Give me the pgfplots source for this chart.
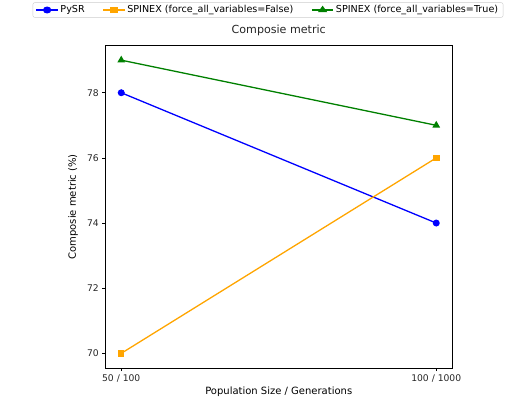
\documentclass[border=0pt]{standalone}
\usepackage{fontspec}
\setmainfont{DejaVu Sans}
\newfontfamily\dv{DejaVu Sans}
\usepackage{pgfplots}
\pgfplotsset{compat=1.18}
\definecolor{mplorange}{RGB}{255,165,0}
\definecolor{mplgreen}{RGB}{0,128,0}
\begin{document}
\begin{tikzpicture}
\path[use as bounding box] (-105.5pt,-37pt) rectangle (403.5pt,368pt);
\begin{axis}[
  at={(0pt,0pt)}, anchor=south west,
  scale only axis, width=346.5pt, height=322.5pt,
  xmin=-0.05, xmax=1.05, ymin=69.55, ymax=79.45,
  xtick={0,1}, xticklabels={\mbox{\dv 50 / 100}, \mbox{\dv 100 / 1000}},
  ytick={70,72,74,76,78},
  tick align=outside, tick pos=left,
  major tick length=3.2pt,
  tick style={black, line width=0.7pt},
  axis line style={black, line width=0.7pt},
  /pgf/number format/assume math mode=true,
  tick label style={font=\fontsize{9.2}{11}\selectfont, text=black!85},
  label style={font=\fontsize{9.2}{11}\selectfont, text=black!85},
  title style={font=\fontsize{11.1}{13}\selectfont, text=black!85},
  title={Composie metric},
  xlabel={Population Size / Generations},
  ylabel={Composie metric (\%)},
  every axis y label/.style={at={(-32.5pt,161.25pt)}, anchor=center, rotate=90},
  every axis x label/.style={at={(173.25pt,-24pt)}, anchor=center},
  legend columns=3,
  legend image post style={xscale=1.25},
  legend style={at={(162.5pt,358pt)}, anchor=center,
    font=\fontsize{9.6}{11}\selectfont, draw=black!20, rounded corners=2pt,
    inner ysep=1pt, inner xsep=3pt,
    /tikz/every even column/.append style={column sep=16pt}},
  legend cell align=left,
]
\addplot[blue, line width=1.3pt, mark=*, mark size=2.8pt] coordinates {(0,78) (1,74)};
\addlegendentry{PySR}
\addplot[mplorange, line width=1.3pt, mark=square*, mark size=2.6pt] coordinates {(0,70) (1,76)};
\addlegendentry{SPINEX (force\_all\_variables=False)}
\addplot[mplgreen, line width=1.3pt, mark=triangle*, mark size=3.2pt] coordinates {(0,79) (1,77)};
\addlegendentry{SPINEX (force\_all\_variables=True)}
\end{axis}
\end{tikzpicture}
\end{document}
